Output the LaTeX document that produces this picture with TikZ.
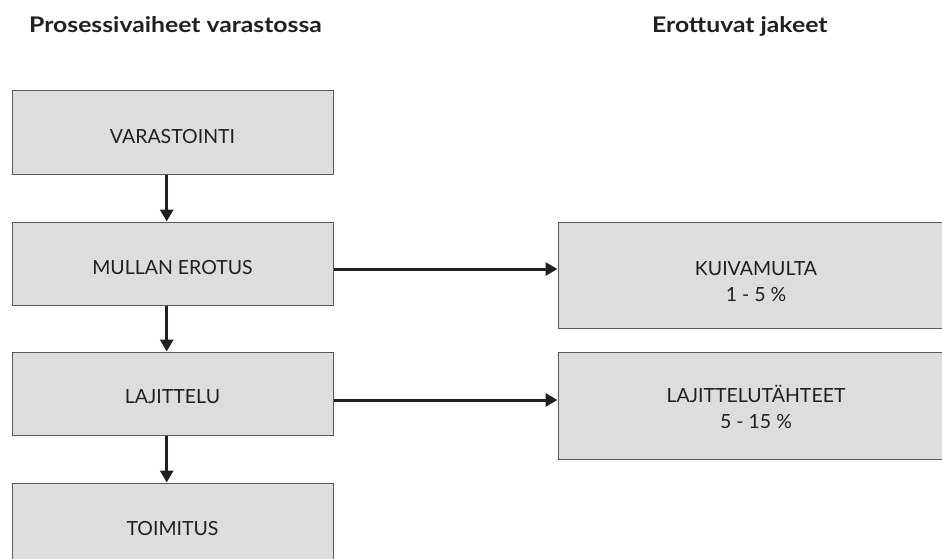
\documentclass[tikz,border=0pt]{standalone}
\usepackage{fontspec}
\setmainfont{Lato}
\newfontfamily\headfont[FakeStretch=1.15]{Lato}
\usetikzlibrary{arrows.meta}
\definecolor{boxfill}{HTML}{DCDDDF}
\definecolor{boxline}{HTML}{58595B}
\definecolor{ink}{HTML}{231F20}
\tikzset{
  stage/.style={draw=boxline, line width=1pt, fill=boxfill, minimum width=321pt,
    minimum height=83pt, inner sep=0pt},
  fraction/.style={stage, minimum width=396pt, minimum height=106pt},
  caption/.style={inner sep=0pt, text=ink, align=center, font=\fontsize{19.5}{26}\selectfont},
  heading/.style={anchor=base west, inner sep=0pt, text=ink,
    font=\headfont\fontsize{21.5}{24}\selectfont\bfseries},
  flow/.style={draw=ink, line width=3pt, -{Triangle[length=12pt,width=13pt]}}
}
\begin{document}
\begin{tikzpicture}[x=1pt, y=-1pt]
  \useasboundingbox (0,0) rectangle (942,558);
  \clip (0,0) rectangle (942,558);

  % column headings
  \node[heading] (hleft) at (29,32) {Prosessivaiheet varastossa};
  \node[heading] (hright) at (652,32) {Erottuvat jakeet};

  % process steps in the store
  \node[stage, minimum height=84pt] (v1) at (172.5,132) {};
  \node[stage] (v2) at (172.5,263.5) {};
  \node[stage] (v3) at (172.5,393.5) {};
  \node[stage] (v4) at (172.5,524.5) {};
  \node[caption] (t1) at ([yshift=-5pt]v1.center) {VARASTOINTI};
  \node[caption] (t2) at ([yshift=-4pt]v2.center) {MULLAN EROTUS};
  \node[caption] (t3) at ([yshift=-3pt]v3.center) {LAJITTELU};
  \node[caption] (t4) at ([yshift=-4pt]v4.center) {TOIMITUS};

  % separated fractions
  \node[fraction] (r1) at (756,275) {};
  \node[fraction, minimum height=107pt] (r2) at (756,405.5) {};
  \node[caption] (t5) at ([yshift=-7pt]r1.center) {KUIVAMULTA\\1 - 5 \%};
  \node[caption] (t6) at ([yshift=-1pt]r2.center) {LAJITTELUTÄHTEET\\5 - 15 \%};

  % flow between steps
  \draw[flow] ([xshift=-5.8pt]v1.south) -- ([xshift=-5.8pt]v2.north);
  \draw[flow] ([xshift=-5.8pt]v2.south) -- ([xshift=-5.8pt]v3.north);
  \draw[flow] ([xshift=-5.8pt]v3.south) -- ([xshift=-5.8pt]v4.north);

  % fractions leaving the process
  \draw[flow] ([yshift=-5.5pt]v2.east) -- ([yshift=-5.5pt]v2.east -| r1.west);
  \draw[flow] ([yshift=-6.5pt]v3.east) -- ([yshift=-6.5pt]v3.east -| r2.west);
\end{tikzpicture}
\end{document}
